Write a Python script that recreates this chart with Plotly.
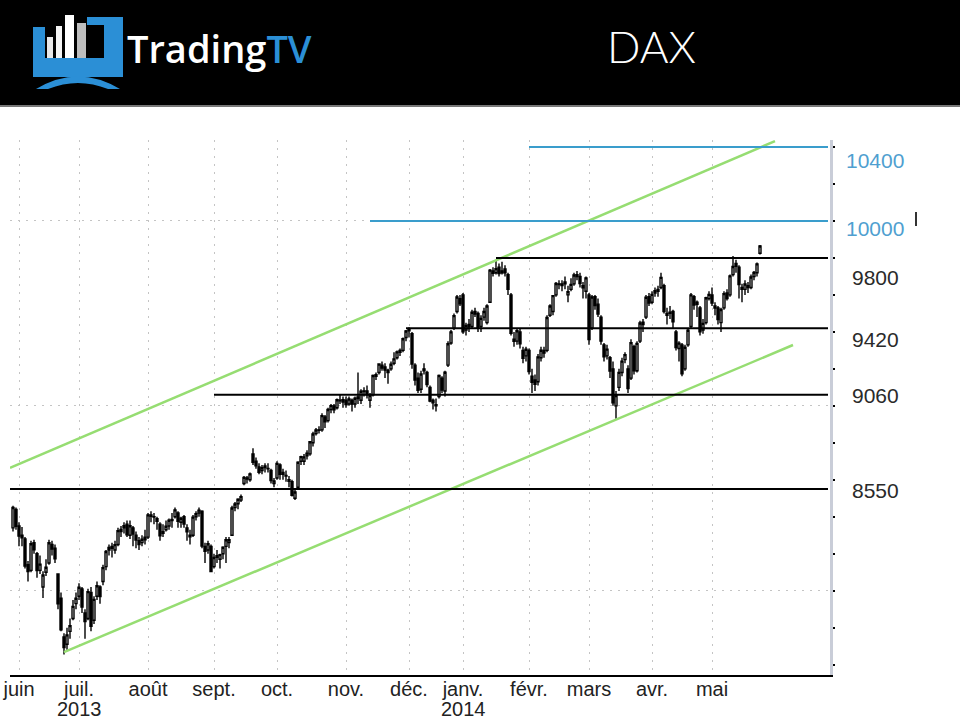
import pandas as pd
import plotly.graph_objects as go

# ---------------- data ----------------
holidays = ["2013-12-24", "2013-12-25", "2013-12-26", "2013-12-31", "2014-01-01",
            "2014-04-18", "2014-04-21", "2014-05-01"]
dates = [d.strftime("%Y-%m-%d") for d in pd.bdate_range("2013-05-30", "2014-05-26")
         if d.strftime("%Y-%m-%d") not in holidays]

opens = [
    8340, 8440,  # May 2013
    8350, 8300, 8280, 8140, 8110, 8260, 8200, 8110, 8020, 8100, 8150, 8250, 8230, 8090, 7960, 7750, 7710, 7780, 7850, 7930,  # Jun
    7970, 8010, 7880, 7850, 7990, 7840, 7970, 8020, 8050, 8130, 8220, 8240, 8220, 8250, 8320, 8340, 8360, 8300, 8340, 8300, 8270, 8260, 8290,  # Jul
    8290, 8410, 8400, 8390, 8360, 8310, 8330, 8350, 8380, 8400, 8420, 8370, 8400, 8340, 8300, 8300, 8400, 8420, 8430, 8240, 8220, 8240,  # Aug
    8130, 8190, 8170, 8200, 8240, 8260, 8300, 8450, 8470, 8490, 8580, 8610, 8600, 8740, 8700, 8670, 8650, 8675, 8660, 8650, 8580,  # Sep
    8610, 8680, 8640, 8620, 8600, 8590, 8500, 8560, 8700, 8700, 8730, 8740, 8800, 8850, 8870, 8870, 8940, 8920, 8980, 9000, 8990, 9030, 9020,  # Oct
    9030, 9010, 9030, 9010, 9040, 9030, 9080, 9080, 9030, 9060, 9160, 9180, 9220, 9210, 9180, 9200, 9230, 9260, 9290, 9300, 9370,  # Nov
    9415, 9390, 9220, 9150, 9090, 9200, 9180, 9100, 9030, 9000, 9050, 9150, 9080, 9220, 9340, 9420, 9510, 9580,  # Dec
    9600, 9410, 9440, 9430, 9510, 9500, 9430, 9480, 9450, 9560, 9730, 9720, 9750, 9720, 9740, 9710, 9600, 9360, 9350, 9400, 9300, 9270,  # Jan 2014
    9300, 9160, 9140, 9130, 9260, 9300, 9300, 9490, 9510, 9600, 9660, 9650, 9670, 9600, 9630, 9660, 9710, 9700, 9650, 9620,  # Feb
    9600, 9420, 9590, 9550, 9480, 9330, 9270, 9260, 9200, 9000, 9100, 9180, 9250, 9200, 9150, 9320, 9190, 9350, 9440, 9480, 9590,  # Mar
    9560, 9610, 9620, 9640, 9650, 9500, 9500, 9510, 9400, 9310, 9330, 9200, 9330, 9430, 9590, 9560, 9530, 9410, 9450, 9580,  # Apr
    9600, 9540, 9530, 9450, 9530, 9610, 9600, 9710, 9770, 9750, 9640, 9630, 9650, 9640, 9700, 9720, 9825,  # May
]
highs = [
    8460, 8450,
    8370, 8345, 8290, 8160, 8270, 8275, 8210, 8190, 8105, 8170, 8275, 8270, 8250, 8095, 7990, 7770, 7800, 7850, 7950, 7990,
    8040, 8020, 7900, 8010, 8020, 7970, 8050, 8030, 8140, 8220, 8250, 8260, 8270, 8340, 8350, 8370, 8380, 8380, 8350, 8320, 8290, 8300, 8330,
    8420, 8430, 8420, 8400, 8370, 8360, 8380, 8390, 8420, 8450, 8430, 8400, 8410, 8360, 8330, 8410, 8430, 8450, 8435, 8260, 8270, 8250,
    8200, 8220, 8200, 8240, 8290, 8290, 8460, 8480, 8500, 8520, 8620, 8620, 8640, 8770, 8720, 8690, 8680, 8690, 8690, 8660, 8610,
    8700, 8690, 8660, 8650, 8620, 8600, 8550, 8700, 8730, 8740, 8760, 8810, 8860, 8880, 8890, 8960, 8950, 8990, 9010, 9010, 9040, 9060, 9050,
    9050, 9050, 9040, 9050, 9180, 9090, 9100, 9110, 9070, 9170, 9180, 9230, 9240, 9230, 9200, 9240, 9290, 9300, 9310, 9370, 9410,
    9425, 9400, 9230, 9180, 9190, 9230, 9190, 9110, 9040, 9040, 9170, 9160, 9190, 9350, 9410, 9500, 9600, 9600,
    9610, 9450, 9470, 9520, 9530, 9510, 9490, 9530, 9550, 9740, 9750, 9790, 9770, 9780, 9760, 9720, 9610, 9400, 9420, 9420, 9320, 9320,
    9310, 9200, 9170, 9280, 9320, 9320, 9490, 9550, 9600, 9670, 9680, 9680, 9700, 9650, 9690, 9720, 9730, 9720, 9670, 9700,
    9610, 9600, 9600, 9580, 9490, 9340, 9330, 9270, 9240, 9080, 9200, 9260, 9290, 9220, 9360, 9330, 9350, 9460, 9470, 9600, 9610,
    9620, 9640, 9650, 9720, 9660, 9530, 9540, 9520, 9410, 9350, 9340, 9330, 9420, 9610, 9600, 9570, 9540, 9470, 9590, 9620,
    9640, 9560, 9540, 9530, 9620, 9630, 9710, 9810, 9790, 9760, 9660, 9680, 9670, 9710, 9730, 9775, 9870,
]
lows = [
    8320, 8330,
    8240, 8240, 8120, 8050, 8100, 8200, 8070, 8090, 7960, 8080, 8140, 8190, 8150, 7900, 7780, 7655, 7680, 7740, 7840, 7900,
    7950, 7880, 7740, 7840, 7780, 7820, 7950, 7930, 8030, 8110, 8190, 8180, 8200, 8240, 8290, 8310, 8290, 8280, 8240, 8230, 8220, 8240, 8250,
    8280, 8370, 8360, 8330, 8270, 8290, 8320, 8330, 8340, 8390, 8340, 8340, 8340, 8270, 8250, 8290, 8380, 8400, 8230, 8150, 8200, 8100,
    8120, 8150, 8120, 8170, 8150, 8230, 8300, 8430, 8440, 8480, 8570, 8580, 8590, 8680, 8660, 8630, 8630, 8640, 8640, 8580, 8560,
    8600, 8600, 8600, 8590, 8560, 8510, 8490, 8550, 8680, 8680, 8710, 8730, 8780, 8840, 8850, 8860, 8880, 8910, 8960, 8960, 8980, 9010, 8990,
    8990, 9000, 8970, 8990, 9010, 9010, 9050, 9040, 8990, 9050, 9140, 9170, 9190, 9150, 9120, 9190, 9220, 9250, 9270, 9290, 9350,
    9370, 9200, 9110, 9070, 9070, 9170, 9100, 9020, 8980, 8970, 9040, 9070, 9050, 9210, 9330, 9410, 9500, 9540,
    9390, 9380, 9400, 9420, 9480, 9400, 9400, 9460, 9440, 9560, 9700, 9710, 9700, 9710, 9700, 9600, 9380, 9320, 9330, 9310, 9230, 9240,
    9170, 9070, 9080, 9110, 9240, 9260, 9290, 9480, 9490, 9590, 9630, 9620, 9630, 9560, 9620, 9650, 9680, 9640, 9580, 9580,
    9330, 9410, 9520, 9480, 9330, 9240, 9250, 9150, 9000, 8930, 9080, 9160, 9230, 9070, 9140, 9170, 9180, 9340, 9400, 9470, 9540,
    9550, 9590, 9590, 9630, 9500, 9440, 9470, 9420, 9300, 9240, 9160, 9190, 9320, 9420, 9520, 9480, 9380, 9390, 9440, 9570,
    9540, 9490, 9440, 9400, 9520, 9570, 9590, 9700, 9720, 9580, 9560, 9600, 9610, 9630, 9680, 9700, 9818,
]
closes = [
    8450, 8348,
    8295, 8286, 8133, 8103, 8254, 8221, 8109, 8144, 8085, 8127, 8259, 8225, 8172, 7929, 7789, 7692, 7761, 7811, 7915, 7959,
    8019, 7912, 7833, 7995, 7807, 7953, 8027, 7968, 8125, 8212, 8234, 8230, 8249, 8325, 8332, 8352, 8302, 8351, 8307, 8274, 8250, 8278, 8276,
    8410, 8403, 8398, 8376, 8297, 8319, 8349, 8381, 8385, 8437, 8375, 8392, 8361, 8318, 8291, 8398, 8416, 8436, 8242, 8213, 8254, 8104,
    8180, 8181, 8195, 8235, 8276, 8276, 8447, 8469, 8495, 8509, 8613, 8604, 8632, 8694, 8675, 8640, 8666, 8666, 8661, 8596, 8594,
    8689, 8629, 8630, 8623, 8592, 8516, 8534, 8695, 8725, 8724, 8744, 8806, 8848, 8869, 8867, 8947, 8914, 8980, 9001, 8979, 9033, 9027, 9033,
    9007, 9037, 9009, 9041, 9048, 9079, 9077, 9061, 9055, 9164, 9169, 9226, 9205, 9193, 9193, 9225, 9254, 9292, 9299, 9363, 9405,
    9406, 9226, 9140, 9084, 9172, 9190, 9115, 9026, 9017, 9006, 9164, 9085, 9182, 9336, 9400, 9488, 9589, 9552,
    9400, 9435, 9428, 9506, 9497, 9421, 9473, 9510, 9540, 9734, 9717, 9742, 9715, 9730, 9720, 9631, 9392, 9349, 9406, 9336, 9257, 9306,
    9186, 9127, 9117, 9265, 9301, 9285, 9478, 9540, 9596, 9662, 9656, 9659, 9660, 9618, 9657, 9708, 9699, 9661, 9639, 9692,
    9358, 9589, 9542, 9497, 9350, 9265, 9307, 9188, 9017, 9056, 9181, 9242, 9277, 9093, 9342, 9189, 9338, 9448, 9452, 9587, 9556,
    9603, 9623, 9629, 9695, 9510, 9490, 9507, 9455, 9315, 9339, 9173, 9317, 9409, 9600, 9545, 9549, 9401, 9446, 9585, 9603,
    9556, 9529, 9467, 9521, 9607, 9581, 9703, 9754, 9755, 9656, 9630, 9659, 9640, 9697, 9721, 9768, 9865,
]

level_values = [10400, 10000, 9800, 9420, 9060, 8550]
level_labels = ["10400", "10000", "9800", "9420", "9060", "8550"]
level_starts = ["2014-02-03", "2013-11-13", "2014-01-17", "2013-11-29", "2013-09-02", "2013-05-29"]
level_end = "2014-06-25 16:00"

channel_upper_dates = ["2013-05-29", "2014-06-02"]
channel_upper_values = [8664, 10432]
channel_lower_dates = ["2013-06-24", "2014-06-10"]
channel_lower_values = [7668, 9329]

month_ticks = ["2013-06-03", "2013-07-01", "2013-08-01", "2013-09-02", "2013-10-01", "2013-11-01",
               "2013-12-02", "2014-01-02", "2014-02-03", "2014-03-03", "2014-04-01", "2014-05-02"]
month_labels = ["juin", "juil.", "août", "sept.", "oct.", "nov.", "déc.", "janv.", "févr.", "mars", "avr.", "mai"]
year_ticks = ["2013-07-01", "2014-01-02"]
year_labels = ["2013", "2014"]

# ---------------- layout geometry (pixels) ----------------
W, H = 960, 720
PL, PR, PT, PB = 10, 830, 140, 675


def px(x):
    return (x - PL) / (PR - PL)


def py(y):
    return (PB - y) / (PB - PT)


BLUE = "#2b8fd6"
LEVEL_BLUE = "#3a9dcc"
LABEL_BLUE = "#4f9fd0"
GREEN = "#96dd72"

fig = go.Figure()

fig.add_trace(go.Candlestick(
    x=dates, open=opens, high=highs, low=lows, close=closes,
    increasing=dict(fillcolor="white", line=dict(color="black", width=1.4)),
    decreasing=dict(fillcolor="black", line=dict(color="black", width=1.4)),
    whiskerwidth=0, showlegend=False, hoverinfo="skip",
))

# channel lines
for ds, vs in ((channel_upper_dates, channel_upper_values), (channel_lower_dates, channel_lower_values)):
    fig.add_trace(go.Scatter(x=ds, y=vs, mode="lines", line=dict(color=GREEN, width=2.5),
                             showlegend=False, hoverinfo="skip"))

# horizontal levels
level_colors = [LEVEL_BLUE, LEVEL_BLUE, "black", "black", "black", "black"]
for v, s, c in zip(level_values, level_starts, level_colors):
    fig.add_trace(go.Scatter(x=[s, level_end], y=[v, v], mode="lines", line=dict(color=c, width=2),
                             showlegend=False, hoverinfo="skip"))

annotations = []
label_colors = [LABEL_BLUE, LABEL_BLUE, "#2a2a2a", "#2a2a2a", "#2a2a2a", "#2a2a2a"]
label_shift = [-13, -8, -20, -11, -1, -1]
for v, t, c, s in zip(level_values, level_labels, label_colors, label_shift):
    annotations.append(dict(x=px(875), xref="paper", y=v, yref="y", yshift=s, text=t, showarrow=False,
                            xanchor="center", yanchor="middle",
                            font=dict(family="Liberation Sans, Arial", size=21, color=c)))

for d, t in zip(year_ticks, year_labels):
    annotations.append(dict(x=d, xref="x", y=py(709), yref="paper", text=t, showarrow=False,
                            xanchor="center", yanchor="middle",
                            font=dict(family="Liberation Sans, Arial", size=20, color="#222222")))

# header texts
annotations.append(dict(x=px(125), xref="paper", y=py(48), yref="paper", xanchor="left", yanchor="middle",
                        showarrow=False,
                        text="Trading<span style='color:%s'>TV</span>" % BLUE,
                        font=dict(family="Open Sans", size=38, color="white", weight=600)))
annotations.append(dict(x=px(651), xref="paper", y=py(46), yref="paper", xanchor="center", yanchor="middle",
                        showarrow=False, text="DAX",
                        font=dict(family="Lato", size=44, color="white", weight=300)))

shapes = []
# header bar
shapes.append(dict(type="rect", xref="paper", yref="paper", x0=px(-20), x1=px(980), y0=py(105), y1=py(-20),
                   fillcolor="black", line=dict(width=0), layer="above"))
shapes.append(dict(type="line", xref="paper", yref="paper", x0=px(0), x1=px(960), y0=py(106), y1=py(106),
                   line=dict(color="#777777", width=2), layer="above"))


def path(points):
    return "M " + " L ".join("%f,%f" % (px(a), py(b)) for a, b in points) + " Z"


# logo frame
shapes.append(dict(type="path", xref="paper", yref="paper", layer="above", fillcolor=BLUE, line=dict(width=0),
                   path=path([(33, 27), (45, 27), (45, 58), (104, 58), (104, 25), (87, 25), (87, 17),
                              (123, 17), (123, 77), (33, 77)])))
# logo stand
stand = "M %f,%f Q %f,%f %f,%f L %f,%f Q %f,%f %f,%f Z" % (
    px(36), py(89), px(78), py(64), px(120), py(89),
    px(108), py(89), px(78), py(77), px(48), py(89))
shapes.append(dict(type="path", xref="paper", yref="paper", layer="above", fillcolor=BLUE,
                   line=dict(width=0), path=stand))
# logo bars
for (x0, x1, top, col) in [(47, 53, 37, "#e8e8e8"), (56, 62, 26, "#f4f4f4"),
                           (65, 74, 15, "#ffffff"), (77, 86, 23, "#bdbdbd")]:
    shapes.append(dict(type="rect", xref="paper", yref="paper", layer="above", fillcolor=col,
                       line=dict(width=0), x0=px(x0), x1=px(x1), y0=py(58), y1=py(top)))
# small cursor mark at right
shapes.append(dict(type="line", xref="paper", yref="paper", x0=px(916), x1=px(916), y0=py(212), y1=py(226),
                   line=dict(color="#333333", width=2)))

fig.update_layout(
    width=W, height=H, autosize=False,
    margin=dict(l=PL, r=W - PR, t=PT, b=H - PB, pad=0, autoexpand=False),
    paper_bgcolor="white", plot_bgcolor="white",
    showlegend=False, boxgap=0.05,
    annotations=annotations, shapes=shapes,
    xaxis=dict(
        type="date",
        range=["2013-05-29", "2014-06-26 08:00"],
        rangebreaks=[dict(bounds=["sat", "mon"]), dict(values=holidays)],
        rangeslider=dict(visible=False),
        tickmode="array", tickvals=month_ticks, ticktext=month_labels,
        tickfont=dict(family="Liberation Sans, Arial", size=20, color="#222222"),
        ticks="", ticklabelstandoff=-5, automargin=False,
        showgrid=True, gridcolor="#c4c4c4", griddash="2px,6px", gridwidth=1,
        showline=True, linecolor="black", linewidth=2, zeroline=False,
        fixedrange=True,
    ),
    yaxis=dict(
        side="right", range=[7544, 10438], automargin=False,
        tick0=0, dtick=1000, showticklabels=False,
        ticks="outside", ticklen=2, tickwidth=2, tickcolor="black",
        minor=dict(dtick=200, ticks="outside", ticklen=2, tickwidth=2, tickcolor="black", showgrid=False),
        showgrid=True, gridcolor="#c4c4c4", griddash="2px,6px", gridwidth=1,
        showline=True, linecolor="#c9cdd8", linewidth=3, zeroline=False,
        fixedrange=True,
    ),
)

fig.write_html("out.html", config={"displayModeBar": False},
               post_script="document.body.style.margin='0px';document.body.style.overflow='hidden';")
